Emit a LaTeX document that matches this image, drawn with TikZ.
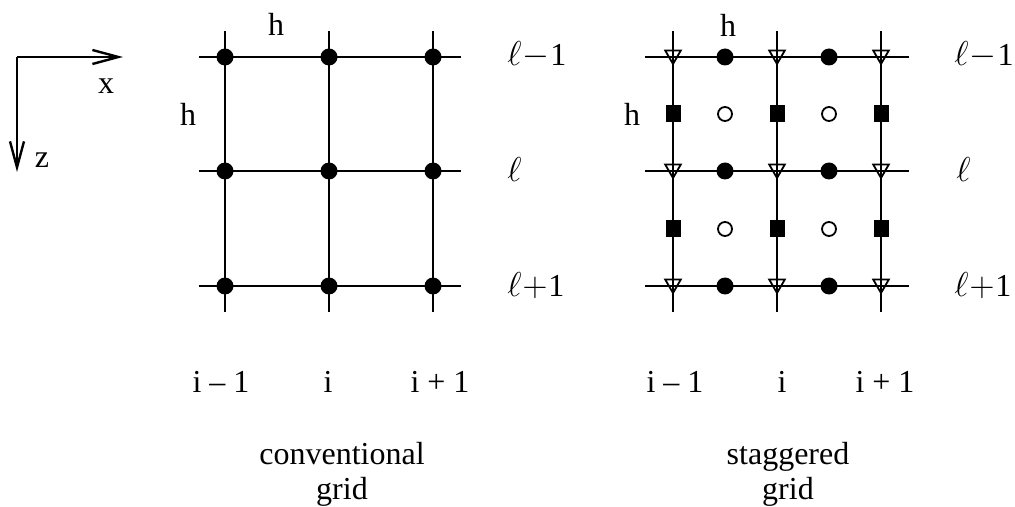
\documentclass[tikz,border=0pt]{standalone}
\usepackage{fontspec}
\setmainfont{Liberation Serif}
\usetikzlibrary{arrows.meta, shapes.geometric}

\begin{document}
\begin{tikzpicture}[x=0.5pt, y=-0.5pt,
    gridline/.style={line width=1.2pt},
    axisarrow/.style={line width=1.2pt, -{Straight Barb[length=13pt, width=7pt, line width=1.2pt]}},
    lbl/.style={font=\fontsize{16}{17.5}\selectfont, inner sep=0pt, anchor=base},
    lblw/.style={lbl, anchor=base west},
    dotfill/.style={circle, fill=black, inner sep=0pt, minimum size=8.5pt},
    dotopen/.style={circle, draw=black, line width=0.9pt, fill=white, inner sep=0pt, minimum size=7pt},
    sqfill/.style={rectangle, fill=black, inner sep=0pt, minimum width=7.5pt, minimum height=8.5pt},
    trimark/.style={regular polygon, regular polygon sides=3, shape border rotate=180, draw=black, line width=0.9pt, inner sep=0pt, minimum size=9pt, yshift=1pt}
]
\useasboundingbox (0,0) rectangle (1015,507);

% Axes (top left)
\coordinate (orig) at (17,57);
\coordinate (xend) at (123,57);
\coordinate (zend) at (17,172);
\draw[axisarrow] (orig) -- (xend);
\draw[axisarrow] (orig) -- (zend);
\node[lbl] (xlab) at (106,94) {x};
\node[lbl] (zlab) at (42,168) {z};

% Conventional grid (left)
\foreach \c/\x in {1/225,2/329,3/433} {
  \coordinate (cn\c) at (\x,31);
  \coordinate (cs\c) at (\x,312);
  \draw[gridline] (cn\c) -- (cs\c);
}
\foreach \r/\y in {1/57,2/171,3/286} {
  \coordinate (cw\r) at (199,\y);
  \coordinate (ce\r) at (461,\y);
  \draw[gridline] (cw\r) -- (ce\r);
}
\foreach \c/\x in {1/225,2/329,3/433}
  \foreach \r/\y in {1/57,2/171,3/286}
    \node[dotfill] (c\c\r) at (\x,\y) {};

% Staggered grid (right)
\foreach \c/\x in {1/673,2/777,3/881} {
  \coordinate (sn\c) at (\x,31);
  \coordinate (ss\c) at (\x,312);
  \draw[gridline] (sn\c) -- (ss\c);
}
\foreach \r/\y in {1/57,2/171,3/286} {
  \coordinate (sw\r) at (645,\y);
  \coordinate (se\r) at (909,\y);
  \draw[gridline] (sw\r) -- (se\r);
}
\foreach \r/\y in {1/57,2/171,3/286} {
  \foreach \c/\x in {1/673,2/777,3/881}
    \node[trimark] (t\c\r) at (\x,\y) {};
  \node[dotfill] (d1\r) at (725,\y) {};
  \node[dotfill] (d2\r) at (829,\y) {};
}
\foreach \r/\y in {1/114,2/229} {
  \foreach \c/\x in {1/673,2/777,3/881}
    \node[sqfill] (q\c\r) at (\x,\y) {};
  \node[dotopen] (o1\r) at (725,\y) {};
  \node[dotopen] (o2\r) at (829,\y) {};
}

% Spacing labels
\node[lbl] (hc1) at (276,36) {h};
\node[lbl] (hc2) at (188,126) {h};
\node[lbl] (hs1) at (728,37) {h};
\node[lbl] (hs2) at (632,126) {h};

% Row labels
\node[lblw] (rc1) at (507,66) {$\ell\kern.5pt{-}\kern.5pt$1};
\node[lblw] (rc2) at (507,182) {$\ell$};
\node[lblw] (rc3) at (507,297) {$\ell\kern.5pt{+}\kern.5pt$1};
\node[lblw] (rs1) at (954,66) {$\ell\kern.5pt{-}\kern.5pt$1};
\node[lblw] (rs2) at (956,182) {$\ell$};
\node[lblw] (rs3) at (954,297) {$\ell\kern.5pt{+}\kern.5pt$1};

% Column labels
\node[lbl] (kc1) at (221,392) {i -- 1};
\node[lbl] (kc2) at (328,392) {i};
\node[lbl] (kc3) at (440,392) {i + 1};
\node[lbl] (ks1) at (675,392) {i -- 1};
\node[lbl] (ks2) at (782,392) {i};
\node[lbl] (ks3) at (885,392) {i + 1};

% Captions
\node[lbl, align=center] (capc) at (342,499) {conventional\\grid};
\node[lbl, align=center] (caps) at (788,499) {staggered\\grid};
\end{tikzpicture}
\end{document}
